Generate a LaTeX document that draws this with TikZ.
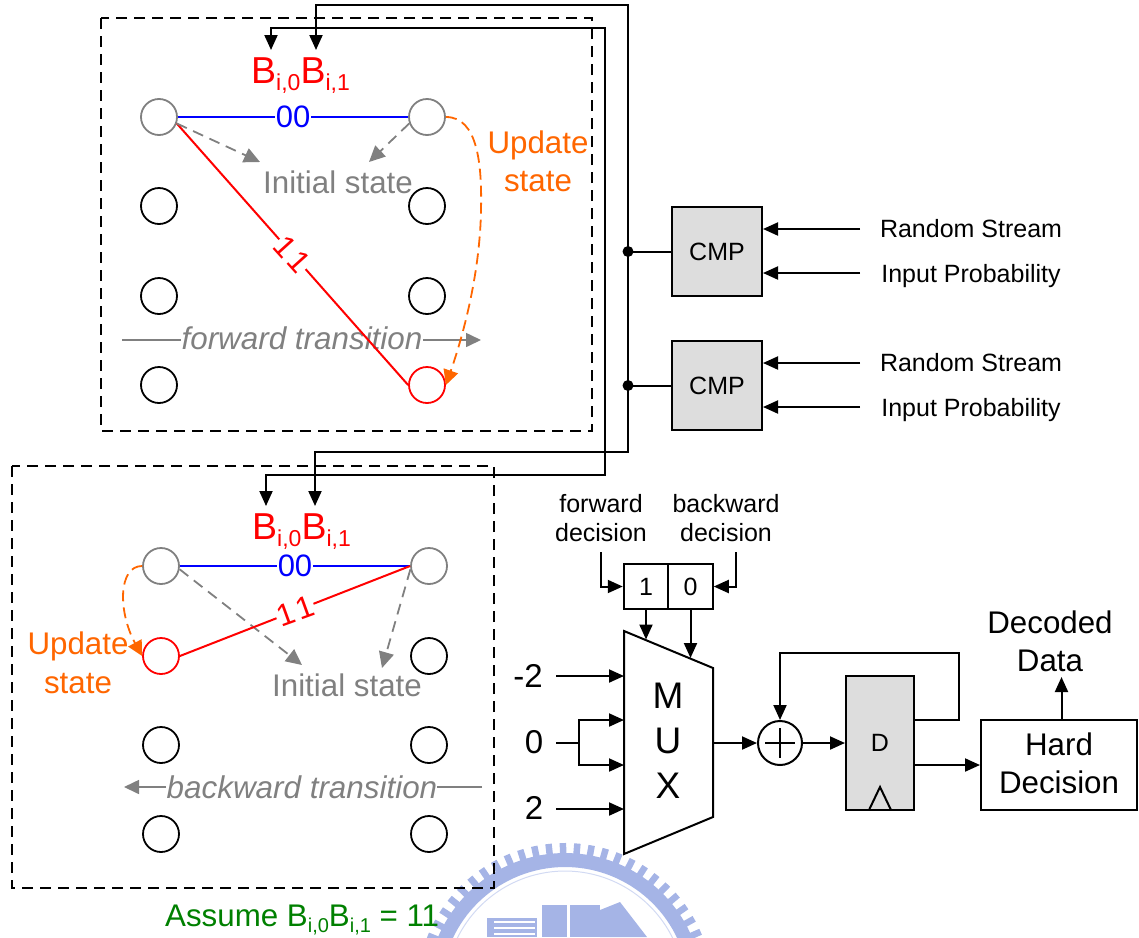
\documentclass[tikz,border=0pt]{standalone}
\usepackage{fontspec}
\setmainfont{Liberation Sans}
\usetikzlibrary{arrows.meta,calc}
\definecolor{upd}{RGB}{255,102,0}
\definecolor{gry}{RGB}{128,128,128}
\definecolor{boxg}{RGB}{221,221,221}
\definecolor{grn}{RGB}{0,128,0}
\definecolor{seal}{RGB}{165,180,230}
\newcommand{\fs}[1]{\fontsize{#1pt}{#1pt}\selectfont}
\newcommand{\bits}{B\raisebox{-7pt}{\fs{23}i,0}B\raisebox{-7pt}{\fs{23}i,1}}
\tikzset{
 x=1pt,y=-1pt,
 state/.style={circle,draw=black,line width=1.8pt,minimum size=36pt,inner sep=0pt,fill=white},
 gstate/.style={state,draw=gry},
 rstate/.style={state,draw=red},
 panel/.style={draw=black,line width=1.8pt,dash pattern=on 11pt off 7pt},
 wire/.style={draw=black,line width=2pt},
 arr/.style={wire,-{Triangle[length=15pt,width=13pt]}},
 garr/.style={draw=gry,line width=1.8pt,dash pattern=on 11pt off 7pt,-{Triangle[length=16pt,width=15pt]}},
 oarr/.style={draw=upd,line width=1.8pt,dash pattern=on 11pt off 6pt,-{Triangle[length=15pt,width=15pt]}},
 gline/.style={draw=gry,line width=1.6pt},
 txt/.style={inner sep=0pt,anchor=base},
 lab/.style={txt,font=\fs{25}},
 big/.style={txt,font=\fs{31.3}},
 mux/.style={txt,font=\fs{37}},
 edgel/.style={inner sep=1pt,fill=white,font=\fs{31}},
 blk/.style={draw=black,line width=2pt,inner sep=0pt},
 dot/.style={circle,fill=black,inner sep=0pt,minimum size=11pt},
}
\begin{document}
\begin{tikzpicture}
\useasboundingbox (0,0) rectangle (1139,937);
% watermark
\begin{scope}
 \clip (0,0) rectangle (1139,937);
 \draw[seal,line width=14pt] plot[domain=15:165,samples=60] ({565+131*cos(\x)},{991-131*sin(\x)});
 \foreach \a in {18,23.6,...,165}{
  \draw[seal,line width=6.5pt] ({565+135*cos(\a)},{991-135*sin(\a)}) -- ({565+148*cos(\a)},{991-148*sin(\a)});
 }
 \draw[seal!50,line width=1pt] plot[domain=15:165,samples=60] ({565+120*cos(\x)},{991-120*sin(\x)});
 \fill[seal] (487,918) rectangle (537,937);
 \foreach \yy in {922,928,934}{\draw[white,line width=1.5pt] (494,\yy) -- (535,\yy);}
 \fill[seal] (542,905) rectangle (567,937);
 \fill[seal] (570,905) rectangle (600,937);
 \fill[seal] (600,910) -- (620,902) -- (647,937) -- (600,937) -- cycle;
\end{scope}
% panels
\draw[panel] (101,18) rectangle (592,431);
\draw[panel] (12,466) rectangle (494,888);
% upper states
\node[gstate] (L1) at (159,117) {}; \node[gstate] (R1) at (427,117) {};
\node[state] (L2) at (159,206) {}; \node[state] (R2) at (427,206) {};
\node[state] (L3) at (159,296) {}; \node[state] (R3) at (427,296) {};
\node[state] (L4) at (159,385) {}; \node[rstate] (R4) at (427,385) {};
% lower states
\node[gstate] (l1) at (161,566) {}; \node[gstate] (r1) at (429,566) {};
\node[rstate] (l2) at (161,656) {}; \node[state] (r2) at (429,656) {};
\node[state] (l3) at (161,745) {}; \node[state] (r3) at (429,745) {};
\node[state] (l4) at (161,834) {}; \node[state] (r4) at (429,834) {};
% upper texts
\node[txt,text=red,font=\fs{37.5},anchor=base west] (B1) at (251,83) {\bits};
\coordinate (B10) at (271,50); \coordinate (B11) at (316,50);
\node[big,text=gry] (I1) at (338,193) {Initial state};
\coordinate (I1a) at (260,162); \coordinate (I1b) at (369,162);
\node[big,text=upd] (U1) at (538,153) {Update};
\node[big,text=upd] (U1b) at (538,191) {state};
\node[txt,text=gry,font=\fs{31.4}\itshape] (F1) at (302,349) {forward transition};
\coordinate (F1s) at (122,340); \coordinate (F1e) at (481,340);
\draw[gline] (F1s) -- (181,340);
\draw[gline,-{Triangle[length=15pt,width=14pt]}] (423,340) -- (F1e);
% upper edges
\draw[draw=blue,line width=2pt] (L1.east) -- node[edgel,text=blue]{00} (R1.west);
\draw[draw=red,line width=2pt] (L1.-20) -- node[edgel,text=red,rotate=-48,pos=.5]{1\kern3pt1} (R4.180);
\draw[garr] (L1.-20) -- (I1a);
\draw[garr] (R1.200) -- (I1b);
\draw[oarr] (R1.east) .. controls (478,117) and (482,165) .. (481,210) .. controls (480,270) and (465,330) .. (R4.east);
% lower texts
\node[txt,text=red,font=\fs{37.5},anchor=base west] (B2) at (252,539) {\bits};
\node[big,text=gry] (I2) at (347,696) {Initial state};
\coordinate (I2a) at (302,665); \coordinate (I2b) at (382,668);
\node[big,text=upd] (U2) at (78,654) {Update};
\node[big,text=upd] (U2b) at (78,693) {state};
\node[txt,text=gry,font=\fs{31.4}\itshape] (F2) at (302,798) {backward transition};
\coordinate (F2s) at (482,787); \coordinate (F2e) at (124,787);
\draw[gline] (F2s) -- (437,787);
\draw[gline,-{Triangle[length=15pt,width=14pt]}] (166,787) -- (F2e);
\draw[draw=blue,line width=2pt] (l1.east) -- node[edgel,text=blue,pos=.5]{00} (r1.west);
\draw[garr] (l1.-10) -- (I2a);
\draw[garr] (r1.190) -- (I2b);
\draw[draw=red,line width=2pt] (l2.east) -- node[edgel,text=red,rotate=20,pos=.5]{1\kern3pt1} (r1.west);
\draw[oarr] (l1.west) .. controls (118,566) and (118,612) .. (l2.west);
\node[txt,text=grn,font=\fs{31.3},anchor=base west] (A) at (165,926) {Assume B\raisebox{-6pt}{\fs{20}i,0}B\raisebox{-6pt}{\fs{20}i,1} = 11};
% CMP
\node[blk,fill=boxg,minimum width=90pt,minimum height=89pt,font=\fs{25}] (C1) at (717,251.5) {CMP};
\node[blk,fill=boxg,minimum width=90pt,minimum height=89pt,font=\fs{25}] (C2) at (717,385.5) {CMP};
\node[lab] (RS1) at (971,237) {Random Stream};
\node[lab] (IP1) at (971,282) {Input Probability};
\node[lab] (RS2) at (971,371) {Random Stream};
\node[lab] (IP2) at (971,416) {Input Probability};
\coordinate (t1) at (860,229); \coordinate (t2) at (860,273); \coordinate (t3) at (860,363); \coordinate (t4) at (860,407);
\draw[arr] (t1) -- (t1 -| C1.east);
\draw[arr] (t2) -- (t2 -| C1.east);
\draw[arr] (t3) -- (t3 -| C2.east);
\draw[arr] (t4) -- (t4 -| C2.east);
\node[dot] (d1) at (628,251.5) {};
\node[dot] (d2) at (628,385.5) {};
\draw[wire] (d1.center) -- (C1.west);
\draw[wire] (d2.center) -- (C2.west);
% bus wires
\coordinate (w1a) at (316,5); \coordinate (w1b) at (628,5); \coordinate (w1c) at (628,452); \coordinate (w1d) at (315,452); \coordinate (w1e) at (315,506);
\coordinate (w2a) at (271,28); \coordinate (w2b) at (605,28); \coordinate (w2c) at (605,475); \coordinate (w2d) at (266,475); \coordinate (w2e) at (266,506);
\draw[wire,{Triangle[length=15pt,width=13pt]}-{Triangle[length=15pt,width=13pt]}] (B11) -- (w1a) -- (w1b) -- (w1c) -- (w1d) -- (w1e);
\draw[wire,{Triangle[length=15pt,width=13pt]}-{Triangle[length=15pt,width=13pt]}] (B10) -- (w2a) -- (w2b) -- (w2c) -- (w2d) -- (w2e);
% decision register
\node[blk,minimum width=44.5pt,minimum height=45pt,font=\fs{25}] (S1) at (646,586.5) {1};
\node[blk,minimum width=44.5pt,minimum height=45pt,font=\fs{25}] (S0) at (690.5,586.5) {0};
\node[lab] (fd1) at (601,512) {forward};
\node[lab] (fd2) at (601,541) {decision};
\node[lab] (bd1) at (726,512) {backward};
\node[lab] (bd2) at (726,541) {decision};
\coordinate (fs) at (600.5,552); \coordinate (bs) at (735.5,552);
\draw[arr] (fs) |- (S1.west);
\draw[arr] (bs) |- (S0.east);
% MUX
\coordinate (M1) at (624,631); \coordinate (M2) at (713,668); \coordinate (M3) at (713,817); \coordinate (M4) at (624,854);
\draw[blk,fill=white] (M1) -- (M2) -- (M3) -- (M4) -- cycle;
\node[mux] (mm) at (668,708) {M};
\node[mux] (mu) at (668,753) {U};
\node[mux] (mx) at (668,798) {X};
\coordinate (sa) at (646,639.5); \coordinate (sb) at (690.5,658);
\draw[arr] (S1.south) -- (sa);
\draw[arr] (S0.south) -- (sb);
\node[txt,font=\fs{33}] (vm2) at (528,687) {-2};
\node[txt,font=\fs{33}] (v0) at (534,753) {0};
\node[txt,font=\fs{33}] (v2) at (534,819) {2};
\coordinate (mi1) at (624,676); \coordinate (mi2) at (624,720); \coordinate (mi3) at (624,765); \coordinate (mi4) at (624,809);
\coordinate (s1) at (556,676); \coordinate (s2) at (556,743); \coordinate (s4) at (556,809); \coordinate (jn) at (578.5,743);
\draw[arr] (s1) -- (mi1);
\draw[arr] (s4) -- (mi4);
\draw[wire] (s2) -- (jn);
\draw[arr] (jn) |- (mi2);
\draw[arr] (jn) |- (mi3);
% adder, D
\node[circle,draw=black,line width=2pt,minimum size=44pt,inner sep=0pt,fill=white] (add) at (780,743) {};
\draw[wire] ($(add.center)+(-15,0)$) -- ($(add.center)+(15,0)$);
\draw[wire] ($(add.center)+(0,-15)$) -- ($(add.center)+(0,15)$);
\coordinate (mo) at (713,743);
\draw[arr] (mo) -- (add.west);
\node[blk,fill=boxg,minimum width=68pt,minimum height=134pt] (D) at (880,743) {};
\node[txt,font=\fs{25}] (Dl) at (880,751) {D};
\draw[blk] (869,810) -- (880,787) -- (891,810);
\draw[arr] (add.east) -- (D.west);
\node[blk,minimum width=156pt,minimum height=90pt] (H) at (1059,765) {};
\node[big] (H1) at (1059,755) {Hard};
\node[big] (H2) at (1059,793) {Decision};
\coordinate (Do) at (914,765); \coordinate (Df) at (914,720); \coordinate (f1) at (958.5,720); \coordinate (f2) at (958.5,653); \coordinate (f3) at (780,653);
\draw[arr] (Do) -- (H.west);
\draw[arr] (Df) -- (f1) -- (f2) -- (f3) -- (add.north);
\node[big] (O1) at (1050,633) {Decoded};
\node[big] (O2) at (1050,671) {Data};
\coordinate (ob) at (1061.5,720); \coordinate (ot) at (1061.5,677);
\draw[arr] (ob) -- (ot);
\end{tikzpicture}
\end{document}
